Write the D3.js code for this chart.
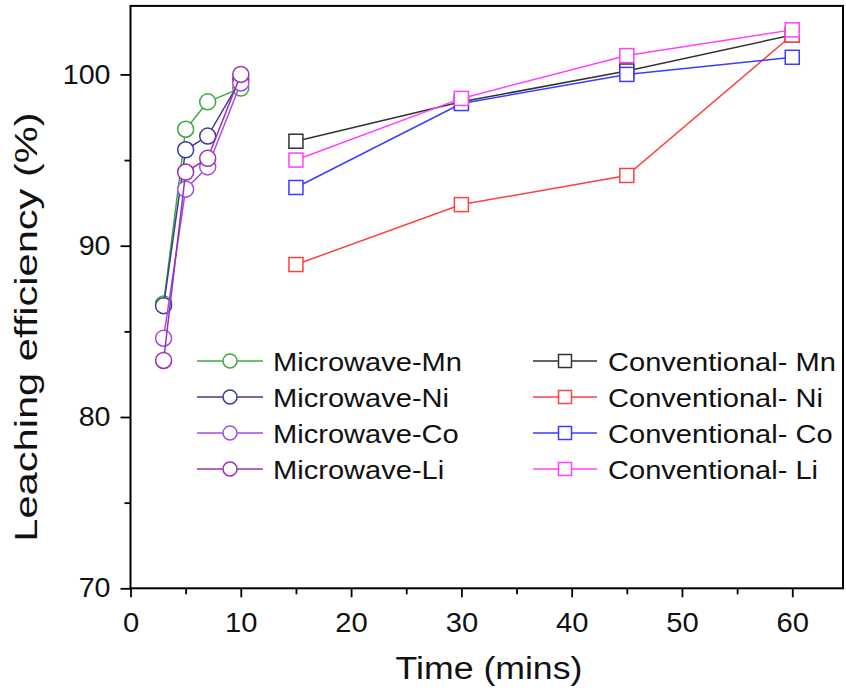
<!DOCTYPE html>
<html>
<head>
<meta charset="utf-8">
<script src="https://cdn.jsdelivr.net/npm/d3@7"></script>
<style>
  html, body { margin: 0; padding: 0; background: #fff; }
  svg { display: block; }
  text { font-family: "Liberation Sans", Arial, sans-serif; fill: #111; }
</style>
</head>
<body>
<svg id="chart" width="846" height="692"></svg>
<script>
// ---------- data ----------
const mwTime = [3, 5, 7, 10];
const mwMn = [86.6, 96.8, 98.4, 99.2];
const mwNi = [86.5, 95.6, 96.4, 99.7];
const mwCo = [84.6, 93.3, 94.6, 99.5];
const mwLi = [83.3, 94.3, 95.1, 100.0];

const convTime = [15, 30, 45, 60];
const convMn = [96.1, 98.4, 100.2, 102.3];
const convNi = [88.9, 92.4, 94.1, 102.3];
const convCo = [93.4, 98.3, 100.0, 101.0];
const convLi = [95.0, 98.6, 101.1, 102.6];

const xTicks = [0, 10, 20, 30, 40, 50, 60];
const xMinorTicks = [5, 15, 25, 35, 45, 55];
const yTicks = [70, 80, 90, 100];
const yMinorTicks = [75, 85, 95];

const seriesNames = ["Microwave-Mn", "Microwave-Ni", "Microwave-Co", "Microwave-Li",
                     "Conventional- Mn", "Conventional- Ni", "Conventional- Co", "Conventional- Li"];
const seriesColors = ["#3fa83f", "#3b3b98", "#a24bf0", "#9932b0",
                      "#333333", "#ff4040", "#3c3cff", "#ff40ff"];

const series = [
  { name: seriesNames[0], color: seriesColors[0], shape: "circle", xs: mwTime, ys: mwMn },
  { name: seriesNames[1], color: seriesColors[1], shape: "circle", xs: mwTime, ys: mwNi },
  { name: seriesNames[2], color: seriesColors[2], shape: "circle", xs: mwTime, ys: mwCo },
  { name: seriesNames[3], color: seriesColors[3], shape: "circle", xs: mwTime, ys: mwLi },
  { name: seriesNames[4], color: seriesColors[4], shape: "square", xs: convTime, ys: convMn },
  { name: seriesNames[5], color: seriesColors[5], shape: "square", xs: convTime, ys: convNi },
  { name: seriesNames[6], color: seriesColors[6], shape: "square", xs: convTime, ys: convCo },
  { name: seriesNames[7], color: seriesColors[7], shape: "square", xs: convTime, ys: convLi }
];

// ---------- layout ----------
const svg = d3.select("#chart");
svg.append("rect").attr("width", 846).attr("height", 692).attr("fill", "#fff");

const L = 130.5, R = 843, T = 5.9, B = 588.3;
const x = d3.scaleLinear().domain([0, 64.6]).range([L, R]);
const y = d3.scaleLinear().domain([70, 104]).range([B, T]);

function stretch(sel, k) {
  sel.each(function () {
    const w = this.getComputedTextLength();
    d3.select(this).attr("textLength", w * k).attr("lengthAdjust", "spacingAndGlyphs");
  });
}

// axes
const gx = svg.append("g").attr("transform", `translate(0,${B})`)
  .call(d3.axisBottom(x).tickValues(xTicks).tickSize(9).tickPadding(16).tickFormat(d3.format("d")));
const gxm = svg.append("g").attr("transform", `translate(0,${B})`)
  .call(d3.axisBottom(x).tickValues(xMinorTicks).tickSize(6).tickFormat(""));
const gy = svg.append("g").attr("transform", `translate(${L},0)`)
  .call(d3.axisLeft(y).tickValues(yTicks).tickSize(10).tickPadding(10).tickFormat(d3.format("d")));
const gym = svg.append("g").attr("transform", `translate(${L},0)`)
  .call(d3.axisLeft(y).tickValues(yMinorTicks).tickSize(6).tickFormat(""));

[gx, gxm, gy, gym].forEach(g => {
  g.select(".domain").remove();
  g.selectAll(".tick line").attr("stroke", "#000").attr("stroke-width", 1.8);
  g.selectAll(".tick text").attr("font-size", 27).attr("fill", "#111")
    .style("font-family", '"Liberation Sans", Arial, sans-serif');
});
stretch(gx.selectAll(".tick text"), 1.08);
stretch(gy.selectAll(".tick text"), 1.06);

// frame
svg.append("rect").attr("x", L).attr("y", T).attr("width", R - L).attr("height", B - T)
  .attr("fill", "none").attr("stroke", "#000").attr("stroke-width", 2);

// axis titles
const xt = svg.append("text").attr("x", 489).attr("y", 679).attr("text-anchor", "middle")
  .attr("font-size", 31).text("Time (mins)");
stretch(xt, 1.15);
const yt = svg.append("text").attr("transform", "translate(37,327) rotate(-90)")
  .attr("text-anchor", "middle").attr("font-size", 32).text("Leaching efficiency (%)");
stretch(yt, 1.3);

// series
const line = d3.line();
series.forEach(s => {
  const pts = s.xs.map((t, i) => [x(t), y(s.ys[i])]);
  svg.append("path").attr("d", line(pts)).attr("fill", "none")
    .attr("stroke", s.color).attr("stroke-width", 1.5);
  const g = svg.append("g");
  pts.forEach(p => {
    if (s.shape === "circle") {
      g.append("circle").attr("cx", p[0]).attr("cy", p[1]).attr("r", 8)
        .attr("fill", "#fff").attr("stroke", s.color).attr("stroke-width", 1.5);
    } else {
      g.append("rect").attr("x", p[0] - 7).attr("y", p[1] - 7).attr("width", 14).attr("height", 14)
        .attr("fill", "#fff").attr("stroke", s.color).attr("stroke-width", 1.5);
    }
  });
});

// legend
const legendCols = [
  { x0: 197, x1: 263, tx: 273 },
  { x0: 533, x1: 597, tx: 608 }
];
series.forEach((s, i) => {
  const col = legendCols[Math.floor(i / 4)];
  const ry = 361 + (i % 4) * 36;
  const cx = (col.x0 + col.x1) / 2;
  svg.append("line").attr("x1", col.x0).attr("x2", col.x1).attr("y1", ry).attr("y2", ry)
    .attr("stroke", s.color).attr("stroke-width", 1.5);
  if (s.shape === "circle") {
    svg.append("circle").attr("cx", cx).attr("cy", ry).attr("r", 7)
      .attr("fill", "#fff").attr("stroke", s.color).attr("stroke-width", 1.5);
  } else {
    svg.append("rect").attr("x", cx - 6.5).attr("y", ry - 6.5).attr("width", 13).attr("height", 13)
      .attr("fill", "#fff").attr("stroke", s.color).attr("stroke-width", 1.5);
  }
  const t = svg.append("text").attr("x", col.tx).attr("y", ry + 10)
    .attr("font-size", 25.5).text(s.name);
  stretch(t, 1.14);
});
</script>
</body>
</html>
